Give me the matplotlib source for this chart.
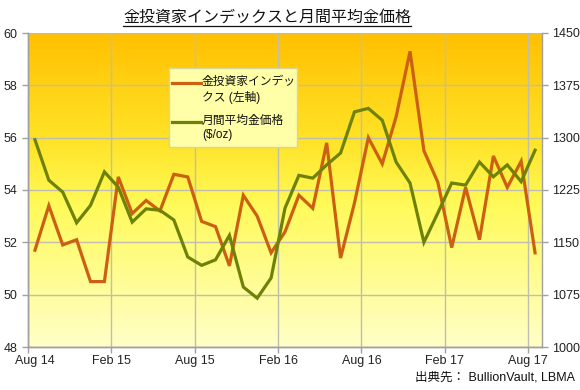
import numpy as np
import pandas as pd
import matplotlib
matplotlib.use("Agg")
import matplotlib.pyplot as plt
import matplotlib.transforms as mtransforms
from matplotlib.patches import Rectangle
from matplotlib.lines import Line2D

plt.rcParams['font.family'] = ['Liberation Sans', 'Noto Sans CJK JP', 'DejaVu Sans']

# monthly data, Aug 2014 - Aug 2017
months = pd.date_range('2014-08-01', periods=37, freq='MS')
investor_index = [51.7, 53.4, 51.9, 52.1, 50.5, 50.5, 54.5, 53.1, 53.6, 53.2,
                  54.6, 54.5, 52.8, 52.6, 51.1, 53.8, 53.0, 51.6, 52.4, 53.8,
                  53.3, 55.8, 51.4, 53.5, 56.0, 55.0, 56.8, 59.3, 55.5, 54.3,
                  51.8, 54.1, 52.1, 55.3, 54.1, 55.1, 51.6]
gold_price = [1297, 1239, 1222, 1178, 1203, 1251, 1229, 1179, 1198, 1196,
              1182, 1129, 1117, 1125, 1160, 1086, 1070, 1099, 1199, 1246,
              1242, 1261, 1278, 1337, 1342, 1325, 1265, 1235, 1150, 1192,
              1235, 1232, 1265, 1244, 1261, 1237, 1282]
label_index = "金投資家インデッ\nクス (左軸)"
label_gold = "月間平均金価格\n($/oz)"
title = "金投資家インデックスと月間平均金価格"
source = "出典先： BullionVault, LBMA"

orange = '#CC6012'
green = '#6E8208'
grid_c = '#C0BEAE'

fig = plt.figure(figsize=(5.8, 3.9), dpi=100)
ax = fig.add_axes([28/580, 1 - 347/390, (542-28)/580, (347-33)/390])

# gradient background
stops = [(0.0, (255, 192, 0)), (0.35, (255, 228, 40)), (0.55, (255, 250, 90)), (1.0, (255, 255, 200))]
t = np.linspace(0, 1, 256)
grad = np.zeros((256, 1, 3))
for c in range(3):
    grad[:, 0, c] = np.interp(t, [s[0] for s in stops], [s[1][c] / 255 for s in stops])
ax.imshow(grad, extent=[0, 1, 0, 1], transform=ax.transAxes, aspect='auto', zorder=0)

x = np.arange(len(months)) + 0.5
ax.plot(x, investor_index, color=orange, lw=2.3, zorder=3, solid_joinstyle='miter')
ax.set_xlim(0, len(months))
ax.set_ylim(48, 60)
ax.set_yticks(np.arange(48, 61, 2))
ticks = np.arange(0, len(months), 6)
ax.set_xticks(ticks)
ax.set_xticklabels([months[i].strftime('%b %y') for i in ticks])
ax.grid(True, color=grid_c, lw=1.0, zorder=1)
ax.set_axisbelow(True)

ax2 = ax.twinx()
ax2.plot(x, gold_price, color=green, lw=2.3, zorder=3, solid_joinstyle='miter')
ax2.set_ylim(1000, 1450)
ax2.set_yticks(np.arange(1000, 1451, 75))

for a in (ax, ax2):
    for s in a.spines.values():
        s.set_color('#A0A0A0')
        s.set_linewidth(1.0)
    a.spines['top'].set_visible(False)
    a.tick_params(colors='#A0A0A0', labelcolor='#222222', labelsize=9, length=4, width=1)
ax.spines['right'].set_visible(False)
ax.tick_params(axis='x', pad=2)

# first date label sits a little right of its tick, as in the original
first = ax.get_xticklabels()[0]
first.set_transform(first.get_transform() + mtransforms.ScaledTranslation(7/100, 0, fig.dpi_scale_trans))

# legend box
lx0, ly0, lx1, ly1 = 169, 68, 297, 147
fig.patches.append(Rectangle((lx0/580, 1 - ly1/390), (lx1-lx0)/580, (ly1-ly0)/390,
                             transform=fig.transFigure, facecolor='#FFFFA8',
                             edgecolor='#D8D49C', lw=1.0, zorder=5))
for ly, col, lab in [(83, orange, label_index), (122, green, label_gold)]:
    fig.lines.append(Line2D([172/580, 201/580], [1 - ly/390] * 2, transform=fig.transFigure,
                            color=col, lw=2.3, zorder=6))
    fig.text(202/580, 1 - (ly - 7)/390, lab, fontsize=8.5, va='top', ha='left',
             color='#111111', linespacing=1.25, zorder=7)

ttl = fig.text(267/580, 1 - 18/390, title, fontsize=11.5, ha='center', va='center', color='#111111')
fig.text(575/580, 1 - 378/390, source, fontsize=9, ha='right', va='center', color='#111111')

# underline the title
fig.canvas.draw()
bb = ttl.get_window_extent().transformed(fig.transFigure.inverted())
fig.lines.append(Line2D([bb.x0, bb.x1], [bb.y0 - 0.002] * 2, transform=fig.transFigure,
                        color='#111111', lw=0.9))

fig.savefig('out.png', dpi=100, facecolor='white')
